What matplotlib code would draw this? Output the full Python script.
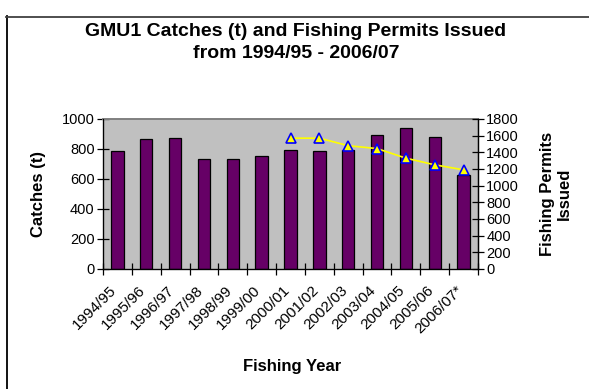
import matplotlib

matplotlib.use("Agg")
import matplotlib.pyplot as plt
import matplotlib.transforms as mtransforms
from matplotlib.lines import Line2D
import numpy as np

plt.rcParams["font.family"] = ["Liberation Sans", "DejaVu Sans"]

years = ["1994/95", "1995/96", "1996/97", "1997/98", "1998/99", "1999/00", "2000/01",
         "2001/02", "2002/03", "2003/04", "2004/05", "2005/06", "2006/07*"]
catches = [787, 864, 873, 733, 733, 751, 795, 787, 795, 891, 942, 882, 627]
permit_years = ["2000/01", "2001/02", "2002/03", "2003/04", "2004/05", "2005/06", "2006/07*"]
permits = [1570, 1570, 1480, 1445, 1330, 1250, 1190]

W, H = 589, 389
fig = plt.figure(figsize=(W / 100, H / 100), dpi=100)
fig.patch.set_facecolor("white")

# chart frame: only top and left edges fall inside the image
fig.add_artist(Line2D([6.5 / W, 6.5 / W], [0, 1 - 16 / H], color="black", lw=1.3))
fig.add_artist(Line2D([6 / W, 1], [1 - 16.5 / H, 1 - 16.5 / H], color="#404040", lw=1.3))

ax = fig.add_axes([103 / W, 1 - 269 / H, 375 / W, 150 / H])
ax.set_facecolor("#C0C0C0")

x = np.arange(len(years))
ax.bar(x, catches, width=0.43, color="#660066", edgecolor="black", linewidth=0.9, zorder=2)
ax.set_xlim(-0.5, len(years) - 0.5)
ax.set_ylim(0, 1000)
ax.set_yticks(np.arange(0, 1001, 200))
ax.set_xticks(np.arange(-0.5, len(years), 1.0))
ax.set_xticklabels([])
ax.set_xticks(x, minor=True)
ax.set_xticklabels(years, minor=True, rotation=45, ha="right", rotation_mode="anchor", fontsize=11)
ax.tick_params(axis="x", which="minor", length=0, pad=10)
ax.tick_params(axis="x", which="major", direction="inout", length=8, width=0.9)
ax.tick_params(axis="y", direction="inout", length=8, width=0.9, labelsize=10.5, pad=2)
shift = mtransforms.ScaledTranslation(-0.08, 0, fig.dpi_scale_trans)
for lbl in ax.get_xticklabels(minor=True):
    lbl.set_transform(lbl.get_transform() + shift)
for side in ("left", "bottom", "right"):
    ax.spines[side].set_color("black")
    ax.spines[side].set_linewidth(0.9)
ax.spines["top"].set_color("#808080")
ax.spines["top"].set_linewidth(1.4)

ax2 = ax.twinx()
px = [years.index(y) for y in permit_years]
ax2.plot(px, permits, color="#FFFF00", lw=1.2, marker="^", markersize=7,
         markerfacecolor="#FFFF00", markeredgecolor="#0000FF", markeredgewidth=1.2, zorder=3)
ax2.set_ylim(0, 1800)
ax2.set_yticks(np.arange(0, 1801, 200))
ax2.tick_params(axis="y", direction="inout", length=8, width=0.9, labelsize=10.5, pad=2)
ax2.spines["right"].set_linewidth(0.9)
ax2.spines["top"].set_visible(False)

fig.text(296 / W, 1 - 31 / H, "GMU1 Catches (t) and Fishing Permits Issued",
         ha="center", va="center", fontsize=14, fontweight="bold")
fig.text(296 / W, 1 - 53 / H, "from 1994/95 - 2006/07",
         ha="center", va="center", fontsize=14, fontweight="bold")
fig.text(38 / W, 1 - 194 / H, "Catches (t)", rotation=90, ha="center", va="center",
         fontsize=12, fontweight="bold")
fig.text(556 / W, 1 - 194 / H, "Fishing Permits\nIssued", rotation=90, ha="center",
         va="center", fontsize=12, fontweight="bold", linespacing=1.15)
fig.text(292 / W, 1 - 366 / H, "Fishing Year", ha="center", va="center",
         fontsize=12, fontweight="bold")

fig.savefig("out.png", dpi=100)
